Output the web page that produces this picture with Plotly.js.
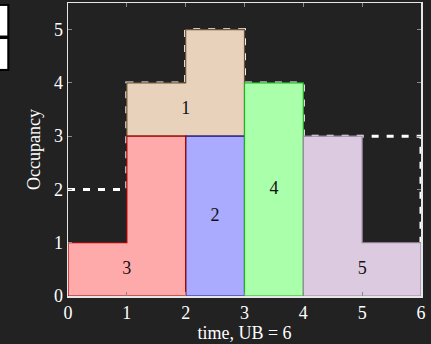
<!DOCTYPE html>
<html>
<head>
<meta charset="utf-8">
<script src="https://cdn.plot.ly/plotly-3.0.1.min.js"></script>
<style>html,body{margin:0;padding:0;background:#222222;}#chart{width:431px;height:344px;}</style>
</head>
<body>
<div id="chart"></div>
<script>
// Job labels and polygon outlines (time, occupancy)
const jobLabels = ['1', '2', '3', '4', '5'];
const job1X = [1, 1, 2, 2, 3, 3, 1];
const job1Y = [3, 4, 4, 5, 5, 3, 3];
const job2X = [2, 2, 3, 3, 2];
const job2Y = [0, 3, 3, 0, 0];
const job3X = [0, 0, 1, 1, 2, 2, 0];
const job3Y = [0, 1, 1, 3, 3, 0, 0];
const job4X = [3, 3, 4, 4, 3];
const job4Y = [0, 4, 4, 0, 0];
const job5X = [4, 4, 5, 5, 6, 6, 4];
const job5Y = [0, 3, 3, 1, 1, 0, 0];
// label anchor points
const labelX = [2, 2.5, 1, 3.5, 5];
const labelY = [3.5, 1.5, 0.5, 2, 0.5];
// dashed profile
const profileX = [0, 1, 1, 2, 2, 3, 3, 4, 4, 6, 6];
const profileY = [2, 2, 4, 4, 5, 5, 4, 4, 3, 3, 1];
const xTicks = [0, 1, 2, 3, 4, 5, 6];
const yTicks = [0, 1, 2, 3, 4, 5];

const serif = 'Liberation Serif, DejaVu Serif, serif';
const fills = ['#e8d2bc', '#aaaaff', '#ffaaaa', '#aaffaa', '#dccae0'];
const edges = ['#6e5432', '#1a1a8c', '#a00000', '#22b022', '#9a86a2'];
const polys = [[job1X, job1Y], [job2X, job2Y], [job3X, job3Y], [job4X, job4Y], [job5X, job5Y]];

const traces = [{
  x: profileX, y: profileY, type: 'scatter', mode: 'lines',
  line: {color: '#ffffff', width: 3, dash: '7px,8px'},
  hoverinfo: 'skip', showlegend: false
}];
polys.forEach((p, i) => {
  traces.push({
    x: p[0], y: p[1], type: 'scatter', mode: 'lines', fill: 'toself',
    fillcolor: fills[i], line: {color: edges[i], width: 1.2},
    hoverinfo: 'skip', showlegend: false
  });
});
traces.push({
  x: labelX, y: labelY, text: jobLabels, type: 'scatter', mode: 'text',
  textfont: {family: serif, size: 18, color: '#111111'},
  hoverinfo: 'skip', showlegend: false
});

const layout = {
  width: 431, height: 344,
  margin: {l: 68, r: 10, t: 3, b: 48},
  paper_bgcolor: '#222222', plot_bgcolor: '#222222',
  font: {family: serif, color: '#ffffff', size: 18},
  showlegend: false,
  xaxis: {
    range: [0, 6], tickvals: xTicks, ticks: 'inside', ticklen: 4, tickcolor: '#888888',
    showgrid: false, zeroline: false, showline: true, linecolor: '#e6e6e6', linewidth: 1.5,
    mirror: 'allticks', tickfont: {family: serif, size: 18, color: '#ffffff'},
    title: {text: 'time, UB = 6', font: {family: serif, size: 18, color: '#ffffff'}, standoff: 2}
  },
  yaxis: {
    range: [0, 5.5], tickvals: yTicks, ticks: 'inside', ticklen: 4, tickcolor: '#888888',
    showgrid: false, zeroline: false, showline: true, linecolor: '#e6e6e6', linewidth: 1.5,
    mirror: 'allticks', tickfont: {family: serif, size: 18, color: '#ffffff'},
    title: {text: 'Occupancy', font: {family: serif, size: 18, color: '#ffffff'}, standoff: 8}
  },
  shapes: [
    {type: 'rect', xref: 'paper', yref: 'paper', x0: -0.196, x1: -0.166, y0: 0.768, y1: 0.9966,
     fillcolor: '#000000', line: {width: 0}, layer: 'above'},
    {type: 'rect', xref: 'paper', yref: 'paper', x0: -0.196, x1: -0.172, y0: 0.889, y1: 0.990,
     fillcolor: '#ffffff', line: {width: 0}, layer: 'above'},
    {type: 'rect', xref: 'paper', yref: 'paper', x0: -0.196, x1: -0.172, y0: 0.775, y1: 0.877,
     fillcolor: '#ffffff', line: {width: 0}, layer: 'above'}
  ]
};

Plotly.newPlot('chart', traces, layout, {displayModeBar: false, staticPlot: true});
</script>
</body>
</html>
